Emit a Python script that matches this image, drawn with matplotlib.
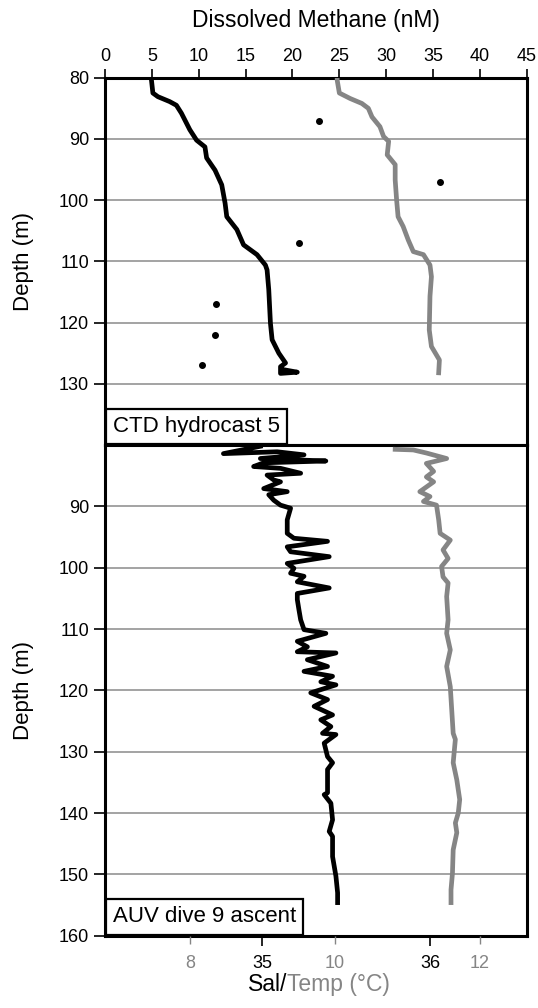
import matplotlib
matplotlib.use('Agg')
import matplotlib.pyplot as plt

plt.rcParams['font.family'] = ['Liberation Sans', 'DejaVu Sans']

# CTD hydrocast 5 (top panel)
ctd_sal_depth = [80.0, 82.5, 83.1, 83.9, 84.5, 85.8, 88.5, 90.2, 91.3, 93.1, 95.1, 97.5, 100.5,
                 102.7, 104.8, 107.3, 108.9, 110.6, 111.4, 114.6, 120.1, 122.8, 125.0, 126.6,
                 127.2, 128.3, 128.1, 127.7]
ctd_sal = [34.34, 34.35, 34.38, 34.45, 34.49, 34.52, 34.57, 34.61, 34.66, 34.67, 34.72, 34.76, 34.78,
           34.79, 34.85, 34.89, 34.97, 35.02, 35.03, 35.04, 35.05, 35.06, 35.10, 35.14,
           35.11, 35.11, 35.21, 35.13]
ctd_temp_depth = [80.0, 80.4, 82.5, 83.4, 84.2, 85.0, 86.4, 88.0, 89.6, 90.4, 92.6, 94.2, 96.7,
                  100.0, 102.7, 104.3, 106.5, 108.4, 108.9, 110.6, 112.5, 115.7, 121.2, 123.9,
                  126.1, 128.2]
ctd_temp = [10.03, 10.03, 10.06, 10.21, 10.37, 10.46, 10.51, 10.62, 10.67, 10.74, 10.72, 10.83, 10.83,
            10.85, 10.87, 10.94, 11.01, 11.08, 11.22, 11.31, 11.33, 11.31, 11.30, 11.33,
            11.44, 11.43]
ch4_depth = [87, 97, 107, 117, 122, 127]
ch4_nM = [22.8, 35.7, 20.7, 11.8, 11.7, 10.4]

# AUV dive 9 ascent (bottom panel)
auv_sal_depth = [80.2, 81.4, 81.1, 81.6, 82.2, 82.6, 82.9, 83.5, 83.8, 84.6,
                 84.9, 85.7, 86.0, 87.1, 87.6, 88.1, 89.0, 89.8, 90.3, 92.2,
                 94.4, 95.2, 95.7, 96.6, 97.4, 98.2, 99.3, 100.1, 100.9, 101.4,
                 102.3, 103.3, 104.2, 105.2, 106.9, 108.5, 110.1, 110.7, 112.0, 112.9,
                 113.7, 113.9, 115.0, 116.1, 116.9, 117.7, 118.6, 119.1, 120.4, 121.5,
                 122.6, 124.0, 124.8, 125.9, 127.0, 127.2, 128.6, 130.8, 131.8, 132.9,
                 134.6, 136.7, 137.0, 138.4, 141.1, 143.0, 143.8, 147.1, 150.3, 153.0,
                 154.6]
auv_sal = [34.99, 34.77, 35.09, 35.25, 34.99, 35.38, 35.01, 34.95, 35.11, 35.23,
           35.03, 35.07, 35.11, 35.01, 35.15, 35.04, 35.07, 35.11, 35.17, 35.15,
           35.15, 35.19, 35.39, 35.15, 35.17, 35.40, 35.15, 35.19, 35.17, 35.25,
           35.21, 35.40, 35.21, 35.21, 35.22, 35.23, 35.25, 35.38, 35.21, 35.27,
           35.21, 35.44, 35.27, 35.39, 35.25, 35.42, 35.35, 35.44, 35.29, 35.39,
           35.31, 35.42, 35.35, 35.41, 35.36, 35.44, 35.37, 35.39, 35.42, 35.39,
           35.39, 35.39, 35.37, 35.41, 35.42, 35.40, 35.42, 35.42, 35.44, 35.45,
           35.45]
auv_temp_depth = [80.7, 80.8, 81.3, 82.2, 83.0, 84.3, 85.2, 86.0, 87.6, 88.4,
                  89.2, 89.8, 92.2, 94.4, 95.5, 97.1, 98.5, 99.8, 101.5, 102.5,
                  104.7, 108.5, 110.7, 113.4, 116.1, 119.4, 123.2, 127.0, 128.0, 131.8,
                  134.6, 137.8, 140.0, 141.6, 143.2, 146.0, 149.8, 152.5, 154.6]
auv_temp = [10.83, 11.08, 11.26, 11.54, 11.26, 11.36, 11.26, 11.36, 11.17, 11.31,
            11.22, 11.40, 11.43, 11.45, 11.59, 11.49, 11.56, 11.47, 11.49, 11.56,
            11.54, 11.56, 11.54, 11.59, 11.54, 11.59, 11.61, 11.63, 11.66, 11.63,
            11.68, 11.72, 11.70, 11.66, 11.68, 11.63, 11.62, 11.60, 11.60]

ch4_ticks = [0, 5, 10, 15, 20, 25, 30, 35, 40, 45]
sal_ticks = [35, 36]
temp_ticks = [8, 10, 12]

SAL_LIM = (34.065, 36.576)
TEMP_LIM = (6.828, 12.644)
GRAY = '#858585'
LW = 3.4

fig = plt.figure(figsize=(5.38, 10.08), dpi=100)
ax1 = fig.add_axes([0.1952, 0.5585, 0.7838, 0.3644])
ax2 = fig.add_axes([0.1952, 0.0717, 0.7838, 0.4868])

for ax in (ax1, ax2):
    for s in ax.spines.values():
        s.set_linewidth(2.2)
    ax.yaxis.grid(True, color='#8a8a8a', linewidth=1.1)
    ax.set_axisbelow(True)
    ax.tick_params(axis='y', length=8, width=1.2, labelsize=13, pad=3.5)
    ax.set_ylabel('Depth (m)', fontsize=16, labelpad=18)

# top panel
ax1.set_ylim(140, 80)
ax1.set_yticks([80, 90, 100, 110, 120, 130])
ax1.set_xlim(0, 45)
ax1.plot(ch4_nM, ch4_depth, 'o', color='black', markersize=4, zorder=5)

ax1s = ax1.twiny()
ax1s.set_xlim(*SAL_LIM)
ax1s.plot(ctd_sal, ctd_sal_depth, color='black', linewidth=LW)
ax1t = ax1.twiny()
ax1t.set_xlim(*TEMP_LIM)
ax1t.plot(ctd_temp, ctd_temp_depth, color=GRAY, linewidth=LW)
for tw in (ax1s, ax1t):
    tw.xaxis.set_visible(False)
    for s in tw.spines.values():
        s.set_visible(False)

# methane axis on top (after twiny, which moves ticks to the bottom)
ax1.set_xticks(ch4_ticks)
ax1.xaxis.tick_top()
ax1.xaxis.set_label_position('top')
ax1.tick_params(axis='x', length=6.5, width=1.2, labelsize=13, pad=3)
ax1.set_xlabel('Dissolved Methane (nM)', fontsize=16.5, labelpad=15)

ax1t.annotate('CTD hydrocast 5', xy=(0, 0), xycoords='axes fraction',
              xytext=(5.5, 6), textcoords='offset points', fontsize=16,
              ha='left', va='bottom', zorder=10,
              bbox=dict(boxstyle='square,pad=0.32', facecolor='white',
                        edgecolor='black', linewidth=1.6))

# bottom panel
ax2.set_ylim(160, 80)
ax2.set_yticks([90, 100, 110, 120, 130, 140, 150, 160])
ax2.set_xlim(*SAL_LIM)
ax2.plot(auv_sal, auv_sal_depth, color='black', linewidth=LW)

ax2t = ax2.twiny()
ax2t.set_xlim(*TEMP_LIM)
ax2t.set_xticks(temp_ticks)
ax2t.xaxis.set_ticks_position('bottom')
ax2t.xaxis.set_label_position('bottom')
ax2t.tick_params(axis='x', length=6, width=1.0, labelsize=13, pad=8,
                 colors=GRAY)
for s in ax2t.spines.values():
    s.set_visible(False)
ax2t.plot(auv_temp, auv_temp_depth, color=GRAY, linewidth=LW)

ax2.set_xticks(sal_ticks)
ax2.xaxis.tick_bottom()
ax2.tick_params(axis='x', length=7, width=1.2, labelsize=13, pad=7, colors='black')

ax2t.annotate('AUV dive 9 ascent', xy=(0, 0), xycoords='axes fraction',
              xytext=(5.5, 6), textcoords='offset points', fontsize=16,
              ha='left', va='bottom', zorder=10,
              bbox=dict(boxstyle='square,pad=0.32', facecolor='white',
                        edgecolor='black', linewidth=1.6))

# two-colour bottom label
t1 = fig.text(0.461, 0.017, 'Sal/', fontsize=16.5, color='black', ha='left', va='baseline')
ax2.annotate('Temp (\u00b0C)', xy=(1, 0), xycoords=t1, fontsize=16.5, color=GRAY,
             ha='left', va='bottom', annotation_clip=False)

fig.savefig('out.png', dpi=100)
